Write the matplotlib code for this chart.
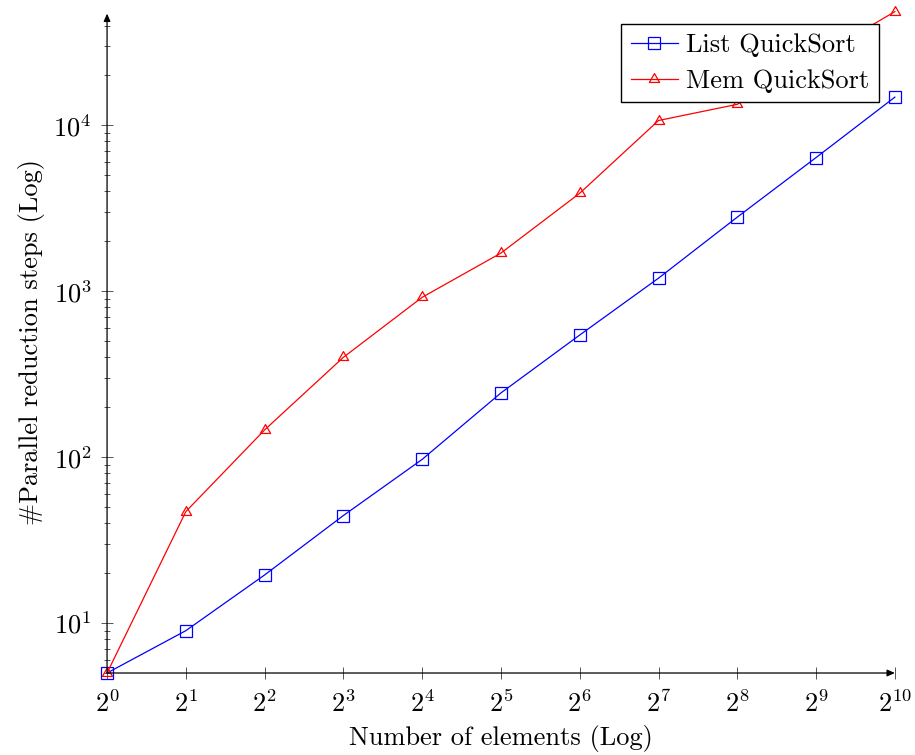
import matplotlib
matplotlib.use("Agg")
import matplotlib.pyplot as plt
from matplotlib.path import Path
from matplotlib.ticker import FixedLocator, LogLocator, NullFormatter, FixedFormatter

plt.rcParams['font.family'] = 'serif'
plt.rcParams['font.serif'] = ['cmr10']
plt.rcParams['mathtext.fontset'] = 'cm'
plt.rcParams['axes.unicode_minus'] = False
plt.rcParams['axes.formatter.use_mathtext'] = True

# Data
n_elements = [1, 2, 4, 8, 16, 32, 64, 128, 256, 512, 1024]
list_quicksort = [5, 9, 19.5, 44.5, 97, 244, 545, 1200, 2800, 6400, 14800]
mem_quicksort = [5, 47, 146, 400, 920, 1700, 3900, 10700, 13400, 25500, 48500]
x_tick_exps = list(range(0, 11))
y_tick_vals = [10, 100, 1000, 10000]
y_tick_labels = [r'$10^{1}$', r'$10^{2}$', r'$10^{3}$', r'$10^{4}$']

fig = plt.figure(figsize=(9.15, 7.55), dpi=100)
ax = fig.add_axes([0.117, 0.1086, 0.861, 0.876])

tri = Path([(0, 1), (-0.866, -0.5), (0.866, -0.5), (0, 1)],
           [Path.MOVETO, Path.LINETO, Path.LINETO, Path.CLOSEPOLY])

ax.plot(n_elements, list_quicksort, color='#0000ff', lw=0.9, marker='s',
        markersize=8, markerfacecolor='none', markeredgecolor='#0000ff',
        markeredgewidth=0.9, label='List QuickSort', clip_on=False, zorder=3)
ax.plot(n_elements, mem_quicksort, color='#ff0000', lw=0.9, marker=tri,
        markersize=8.5, markerfacecolor='none', markeredgecolor='#ff0000',
        markeredgewidth=0.9, label='Mem QuickSort', clip_on=False, zorder=3)

ax.set_xscale('log', base=2)
ax.set_yscale('log')
ax.set_xlim(1, 1024)
ax.set_ylim(5, 48500)

ax.xaxis.set_major_locator(FixedLocator([2 ** k for k in x_tick_exps]))
ax.xaxis.set_major_formatter(FixedFormatter([r'$2^{%d}$' % k for k in x_tick_exps]))
ax.xaxis.set_minor_locator(FixedLocator([]))
ax.yaxis.set_major_locator(FixedLocator(y_tick_vals))
ax.yaxis.set_major_formatter(FixedFormatter(y_tick_labels))
ax.yaxis.set_minor_locator(LogLocator(base=10, subs=range(2, 10)))
ax.yaxis.set_minor_formatter(NullFormatter())

for s in ['top', 'right', 'left', 'bottom']:
    ax.spines[s].set_visible(False)

ax.tick_params(axis='both', which='major', direction='inout', length=8.4,
               width=0.7, color='#555555', labelsize=19, pad=7)
ax.tick_params(axis='y', which='minor', direction='inout', length=4.8,
               width=0.7, color='#555555')
ax.tick_params(axis='x', which='major', pad=8)

# axis lines with arrows
ax.annotate('', xy=(1.0, 0), xytext=(0, 0), xycoords='axes fraction',
            arrowprops=dict(arrowstyle='-|>,head_length=0.45,head_width=0.2',
                            color='black', lw=0.9, shrinkA=0, shrinkB=0),
            annotation_clip=False)
ax.annotate('', xy=(0, 0.997), xytext=(0, 0), xycoords='axes fraction',
            arrowprops=dict(arrowstyle='-|>,head_length=0.45,head_width=0.2',
                            color='black', lw=0.9, shrinkA=0, shrinkB=0),
            annotation_clip=False)

ax.set_xlabel('Number of elements (Log)', fontsize=19, labelpad=6)
ax.set_ylabel('#Parallel reduction steps (Log)', fontsize=19, labelpad=6)

leg = ax.legend(loc='upper right', bbox_to_anchor=(0.9797, 0.9813), fontsize=19,
                frameon=True, fancybox=False, edgecolor='black', framealpha=1,
                borderpad=0.36, labelspacing=0.45, handlelength=1.8,
                handletextpad=0.3, borderaxespad=0)
leg.get_frame().set_linewidth(1.0)

fig.savefig('out.png', dpi=100)
